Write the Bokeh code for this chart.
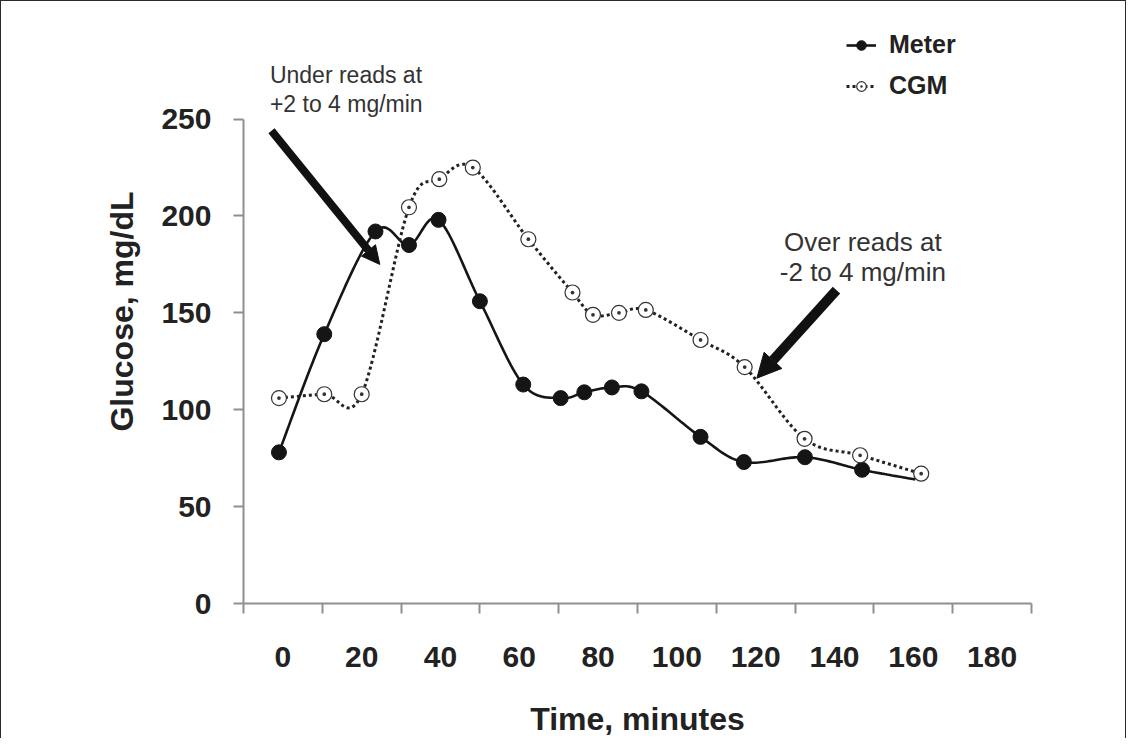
import numpy as np
from bokeh.plotting import figure
from bokeh.models import (Range1d, FixedTicker, Arrow, NormalHead, Label, Legend,
                          LegendItem, ColumnDataSource, CDSView, IndexFilter)
from bokeh.embed import file_html
from bokeh.resources import INLINE

# ---------------- data ----------------
meter_time = [-1, 10.5, 23.5, 32, 39.5, 50, 61, 70.5, 76.5, 83.5, 91, 106, 117, 132.5, 147, 160.5]
meter_glucose = [78, 139, 192, 185, 198, 156, 113, 106, 109, 111.5, 109.5, 86, 73, 75.5, 69, 64]

cgm_time = [-1, 10.5, 20, 32, 39.7, 48.2, 62.3, 73.5, 78.7, 85.3, 92.1, 106, 117.2, 132.4, 146.5, 162]
cgm_glucose = [106, 108, 108, 204.5, 219, 225, 188, 160.5, 149, 150, 151.5, 136, 122, 85, 76.5, 67]

x_tick_labels = [0, 20, 40, 60, 80, 100, 120, 140, 160, 180]
x_tick_marks = [-10, 10, 30, 50, 70, 90, 110, 130, 150, 170, 190]
y_ticks = [0, 50, 100, 150, 200, 250]

series_names = ["Meter", "CGM"]
under_text = ["Under reads at", "+2 to 4 mg/min"]
over_text = ["Over reads at", "-2 to 4 mg/min"]


def smooth(xs, ys, n=24):
    """Excel-style smoothed line (cubic Bezier through the points)."""
    pts = np.column_stack([xs, ys]).astype(float)
    m = len(pts)
    out = [pts[0]]
    t = np.linspace(0, 1, n + 1)[1:, None]
    for i in range(m - 1):
        p0 = pts[i - 1] if i > 0 else pts[i]
        p1 = pts[i]
        p2 = pts[i + 1]
        p3 = pts[i + 2] if i + 2 < m else pts[i + 1]
        c1 = p1 + (p2 - p0) / 6.0
        c2 = p2 - (p3 - p1) / 6.0
        seg = (1 - t) ** 3 * p1 + 3 * (1 - t) ** 2 * t * c1 + 3 * (1 - t) * t ** 2 * c2 + t ** 3 * p2
        out.extend(seg)
    arr = np.array(out)
    return arr[:, 0], arr[:, 1]


FONT = "Liberation Sans"
AXIS_COLOR = "#8f8f8f"
TEXT_COLOR = "#222222"

p = figure(width=1126, height=738,
           x_range=Range1d(-10, 190), y_range=Range1d(0, 301.4),
           output_backend="svg", toolbar_location=None,
           min_border_left=242, min_border_right=96,
           min_border_top=18, min_border_bottom=134)
p.grid.visible = False
p.outline_line_color = None
p.background_fill_color = "white"
p.border_fill_color = "white"
p.styles = {"border-left": "1px solid #2a2a2a", "border-top": "1px solid #2a2a2a",
            "border-right": "1px solid #2a2a2a"}

# ---------------- axes ----------------
xa = p.xaxis[0]
xa.ticker = FixedTicker(ticks=x_tick_labels, minor_ticks=x_tick_marks)
xa.bounds = (-10, 190)
xa.major_tick_in = 0
xa.major_tick_out = 0
xa.minor_tick_in = 0
xa.minor_tick_out = 10
xa.minor_tick_line_color = AXIS_COLOR
xa.minor_tick_line_width = 2
xa.axis_line_color = AXIS_COLOR
xa.axis_line_width = 2
xa.major_label_text_font = FONT
xa.major_label_text_font_style = "bold"
xa.major_label_text_font_size = "30px"
xa.major_label_text_color = TEXT_COLOR
xa.major_label_standoff = 33
xa.axis_label = "Time, minutes"
xa.axis_label_text_font = FONT
xa.axis_label_text_font_style = "bold"
xa.axis_label_text_font_size = "32px"
xa.axis_label_text_color = TEXT_COLOR
xa.axis_label_standoff = 31

ya = p.yaxis[0]
ya.ticker = FixedTicker(ticks=y_ticks, minor_ticks=[])
ya.bounds = (0, 250)
ya.major_tick_in = 0
ya.major_tick_out = 10
ya.major_tick_line_color = AXIS_COLOR
ya.major_tick_line_width = 2
ya.minor_tick_line_color = None
ya.axis_line_color = AXIS_COLOR
ya.axis_line_width = 2
ya.major_label_text_font = FONT
ya.major_label_text_font_style = "bold"
ya.major_label_text_font_size = "30px"
ya.major_label_text_color = TEXT_COLOR
ya.major_label_standoff = 22
ya.axis_label = "Glucose, mg/dL"
ya.axis_label_text_font = FONT
ya.axis_label_text_font_style = "bold"
ya.axis_label_text_font_size = "32px"
ya.axis_label_text_color = TEXT_COLOR
ya.axis_label_standoff = 18

# ---------------- series ----------------
mx, my = smooth(meter_time, meter_glucose)
cx, cy = smooth(cgm_time, cgm_glucose)

meter_src = ColumnDataSource(dict(t=meter_time, g=meter_glucose))
cgm_src = ColumnDataSource(dict(t=cgm_time, g=cgm_glucose))

meter_line = p.line(mx, my, line_width=2.6, line_color="#151515")
meter_view = CDSView(filter=IndexFilter(list(range(len(meter_time) - 1))))
meter_pts = p.scatter("t", "g", source=meter_src, view=meter_view, marker="circle", size=15,
                      fill_color="#151515", line_color="#151515")

cgm_line = p.line(cx, cy, line_width=3, line_dash="3 3", line_color="#222222")
cgm_pts = p.scatter("t", "g", source=cgm_src, marker="circle_dot", size=15,
                    fill_color="white", line_color="#333333", line_width=1.2)

# ---------------- legend ----------------
legend = Legend(items=[LegendItem(label=series_names[0], renderers=[meter_line, meter_pts]),
                       LegendItem(label=series_names[1], renderers=[cgm_line, cgm_pts])],
                location=(603, 503), orientation="vertical",
                border_line_color=None, background_fill_alpha=0,
                padding=0, margin=0, spacing=12,
                glyph_width=30, glyph_height=24, label_height=24, label_standoff=13,
                label_text_font=FONT, label_text_font_style="bold",
                label_text_font_size="25px", label_text_color=TEXT_COLOR)
p.add_layout(legend)

# ---------------- annotations ----------------
p.add_layout(Arrow(x_start=-2.9, y_start=244, x_end=24.6, y_end=175.0,
                   line_width=8, line_color="#111111",
                   end=NormalHead(size=18, fill_color="#111111", line_color="#111111")))
p.add_layout(Arrow(x_start=140.5, y_start=161.7, x_end=120.3, y_end=116.3,
                   line_width=10, line_color="#111111",
                   end=NormalHead(size=24, fill_color="#111111", line_color="#111111")))

for txt, yv in zip(under_text, [273, 258]):
    p.add_layout(Label(x=-3.3, y=yv, text=txt, text_font=FONT, text_font_size="23px",
                       text_color="#333333", text_align="left", text_baseline="middle"))
for txt, yv in zip(over_text, [186.7, 171.3]):
    p.add_layout(Label(x=147.2, y=yv, text=txt, text_font=FONT, text_font_size="26px",
                       text_color="#333333", text_align="center", text_baseline="middle"))

open("out.html", "w").write(file_html(p, INLINE))
